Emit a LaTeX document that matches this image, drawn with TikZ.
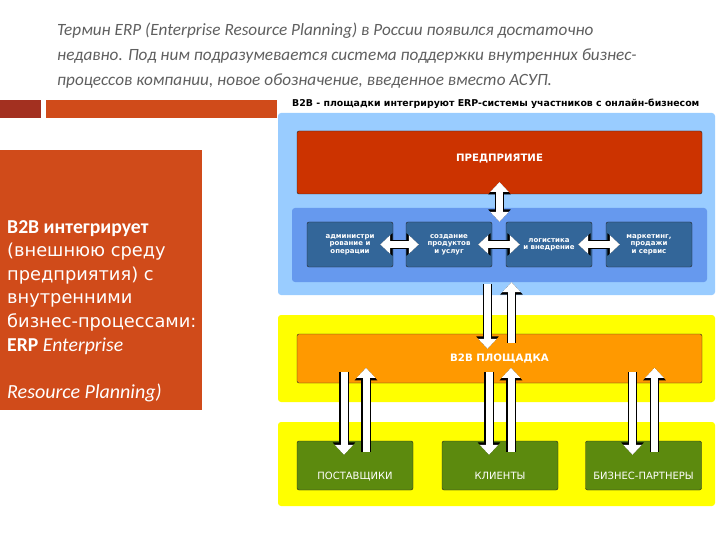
\documentclass[tikz,border=0pt]{standalone}
\usepackage{fontspec}
\setmainfont{Carlito}
\newfontfamily\dejavu{DejaVu Sans}
\usetikzlibrary{arrows.meta,calc}
\definecolor{titlegray}{HTML}{5F5F5F}
\definecolor{barred}{HTML}{A33020}
\definecolor{rust}{HTML}{D04B1A}
\definecolor{skyblue}{HTML}{99CCFF}
\definecolor{firmred}{HTML}{CC3300}
\definecolor{midblue}{HTML}{6699EE}
\definecolor{deptblue}{HTML}{336699}
\definecolor{zoneyellow}{HTML}{FFFF00}
\definecolor{huborange}{HTML}{FF9900}
\definecolor{partgreen}{HTML}{5C8A0E}
\begin{document}
\begin{tikzpicture}[x=1bp,y=-1bp]
\tikzstyle{every node}=[inner sep=0pt]
\tikzstyle{zone}=[rounded corners=3bp, minimum width=437bp]
\tikzstyle{box}=[draw=black!85, rounded corners=2bp, text=white, font=\dejavu\bfseries\fontsize{10.2bp}{12bp}\selectfont]
\tikzstyle{dept}=[box, fill=deptblue, minimum width=86bp, minimum height=45bp, align=center, font=\dejavu\bfseries\fontsize{7bp}{7.4bp}\selectfont]
\tikzstyle{partner}=[box, fill=partgreen, minimum width=116bp, minimum height=49bp, text height=28bp, text depth=0pt, font=\dejavu\fontsize{10bp}{11bp}\selectfont]
\tikzstyle{fat}=[white, line width=7bp, -{Triangle[length=10bp,width=18bp]}, preaction={draw=black, line width=9.5bp, -{Triangle[length=12.5bp,width=22bp]}}]
\tikzstyle{fatboth}=[white, line width=7bp, {Triangle[length=10bp,width=18bp]}-{Triangle[length=10bp,width=18bp]}, preaction={draw=black, line width=9.5bp, {Triangle[length=12.5bp,width=22bp]}-{Triangle[length=12.5bp,width=22bp]}}]
\useasboundingbox (0,0) rectangle (720,540);

\node[anchor=north west, align=left, text=titlegray, font=\itshape\fontsize{17.2bp}{25bp}\selectfont] (intro) at (57,23) {Термин ERP (Enterprise Resource Planning) в России появился достаточно\\недавно. Под ним подразумевается система поддержки внутренних бизнес-\\процессов компании, новое обозначение, введенное вместо АСУП.};
\fill[barred] (0,100) rectangle (41,118);
\fill[rust] (46,100) rectangle (277,118);
\node[fill=rust, anchor=north west, minimum width=202bp, minimum height=260bp] (sidebox) at (0,150) {};
\node[anchor=north west, align=left, text=white, font=\dejavu\fontsize{17.8bp}{23.6bp}\selectfont] (sidetext) at (7,220) {{\rmfamily\bfseries\fontsize{19.7bp}{23.6bp}\selectfont B2B интегрирует}\\(внешнюю среду\\предприятия) с\\внутренними\\бизнес-процессами:\\{\rmfamily\bfseries\fontsize{19.7bp}{23.6bp}\selectfont ERP \mdseries\itshape Enterprise}\\[24bp]{\rmfamily\itshape\fontsize{20bp}{23.6bp}\selectfont Resource Planning)}};

\node[anchor=west, font=\dejavu\bfseries\fontsize{9.4bp}{10bp}\selectfont] (caption) at (292,104) {B2B - площадки интегрируют ERP-системы участников с онлайн-бизнесом};
\node[zone, fill=skyblue, minimum height=182bp] (erpzone) at (496.5,204) {};
\node[box, fill=firmred, minimum width=405bp, minimum height=63bp, text depth=9bp] (firm) at (499.5,162.5) {ПРЕДПРИЯТИЕ};
\node[zone, fill=midblue, minimum width=415bp, minimum height=74bp] (deptzone) at (499.5,245) {};
\node[dept] (admin) at (350,244.5) {администри\\рование и\\операции};
\node[dept] (products) at (449,244.5) {создание\\продуктов\\и услуг};
\node[dept] (logistics) at (549,244.5) {логистика\\и внедрение};
\node[dept] (marketing) at (649,244.5) {маркетинг,\\продажи\\и сервис};
\node[zone, fill=zoneyellow, minimum height=87bp] (hubzone) at (496.5,358.5) {};
\node[box, fill=huborange, minimum width=405bp, minimum height=49bp] (hub) at (499.5,358.5) {B2B ПЛОЩАДКА};
\node[zone, fill=zoneyellow, minimum height=84bp] (partzone) at (496.5,464) {};
\node[partner] (suppliers) at (355,465.5) {ПОСТАВЩИКИ};
\node[partner] (clients) at (500,465.5) {КЛИЕНТЫ};
\node[partner] (partners) at (643.5,465.5) {БИЗНЕС-ПАРТНЕРЫ};

\draw[fatboth] ([yshift=-19.5bp]firm.center) -- ([yshift=-14bp]deptzone.north);
\draw[fatboth] ([xshift=-13bp]admin.east) -- ([xshift=13bp]products.west);
\draw[fatboth] ([xshift=-14bp]products.east) -- ([xshift=14bp]logistics.west);
\draw[fatboth] ([xshift=-14bp]logistics.east) -- ([xshift=14bp]marketing.west);
\draw[fat] ($(deptzone.south)+(-12,2)$) -- ($(hub.north)+(-12,15)$);
\draw[fat] ($(hub.north)+(12,9)$) -- ($(deptzone.south)+(12,0)$);
\draw[fat] ($(suppliers.north)+(-11,-69)$) -- ($(suppliers.north)+(-11,14)$);
\draw[fat] ($(suppliers.north)+(11,11)$) -- ($(suppliers.north)+(11,-73)$);
\draw[fat] ($(clients.north)+(-11,-69)$) -- ($(clients.north)+(-11,14)$);
\draw[fat] ($(clients.north)+(11,11)$) -- ($(clients.north)+(11,-73)$);
\draw[fat] ($(partners.north)+(-11,-69)$) -- ($(partners.north)+(-11,14)$);
\draw[fat] ($(partners.north)+(11,11)$) -- ($(partners.north)+(11,-73)$);
\end{tikzpicture}
\end{document}
